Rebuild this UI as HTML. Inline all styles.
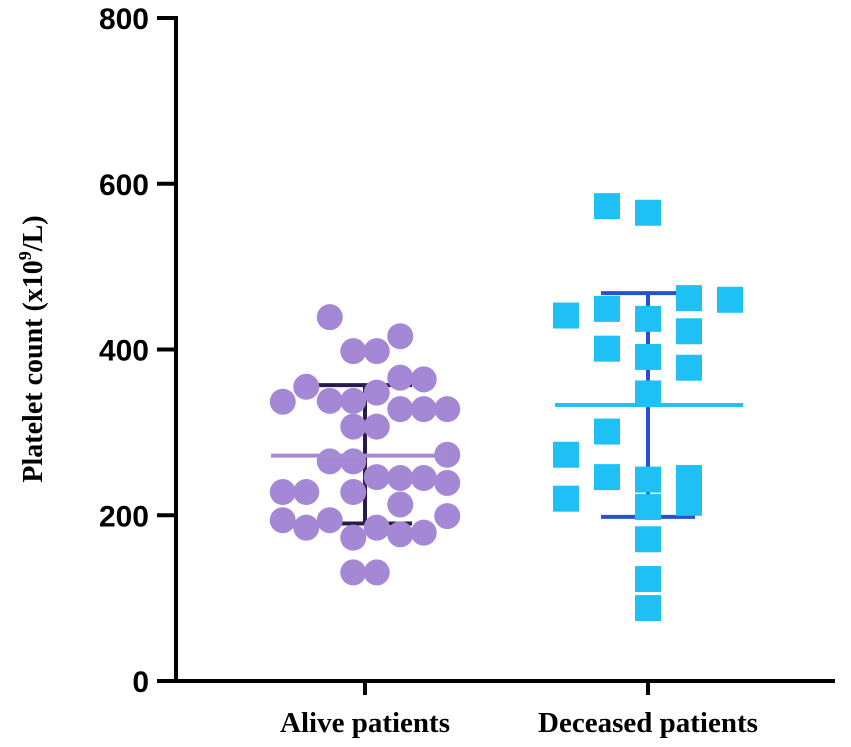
<!DOCTYPE html>
<html><head><meta charset="utf-8"><style>
html,body{margin:0;padding:0;background:#fff;}
svg{display:block;}
</style></head><body>
<svg id="chart" width="851" height="747" xmlns="http://www.w3.org/2000/svg">
<g id="axes"></g>
<g id="marks"></g>
<text transform="translate(42,349) rotate(-90)" text-anchor="middle" font-family="Liberation Serif, serif" font-weight="bold" font-size="28">Platelet count (x10<tspan font-size="18" dy="-11">9</tspan><tspan dy="11">/L)</tspan></text>
</svg>
<script>
const categories = ["Alive patients","Deceased patients"];
const yTicks = [0,200,400,600,800];
const aliveValues = [439,398,398,416,355,366,364,337,338,338,348,328,328,328,307,307,265,265,273,246,245,245,239,228,228,228,213,194,185,194,199,173,185,177,179,131,131];
const aliveSlots = [-1.5,-0.5,0.5,1.5,-2.5,1.5,2.5,-3.5,-1.5,-0.5,0.5,1.5,2.5,3.5,-0.5,0.5,-1.5,-0.5,3.5,0.5,1.5,2.5,3.5,-3.5,-2.5,-0.5,1.5,-3.5,-2.5,-1.5,3.5,-0.5,0.5,1.5,2.5,-0.5,0.5];
const aliveMean = 272, aliveSdLow = 190, aliveSdHigh = 357;
const deceasedValues = [573,565,462,460,441,449,437,422,401,391,378,347,301,273,246,220,243,210,245,215,171,123,88];
const deceasedSlots = [-1,0,1,2,-2,-1,0,1,-1,0,1,0,-1,-2,-1,-2,0,0,1,1,0,0,0];
const deceasedMean = 333, deceasedSdLow = 198, deceasedSdHigh = 468;

const NS="http://www.w3.org/2000/svg";
const x0=176,y0=681,yTop=18,xEnd=835;
const yScale=v=>y0-(v/800)*(y0-yTop);
const catX=[365,648];
function mk(tag,attrs,parent){const e=document.createElementNS(NS,tag);for(const k in attrs)e.setAttribute(k,attrs[k]);parent.appendChild(e);return e;}
const axes=document.getElementById('axes'),marks=document.getElementById('marks');
let e=mk('line',{x1:x0,y1:yTop-2,x2:x0,y2:y0+2,stroke:'#000','stroke-width':4},axes);


e=mk('line',{x1:x0-2,y1:y0,x2:xEnd,y2:y0,stroke:'#000','stroke-width':4},axes);


yTicks.forEach(t=>{const y=yScale(t);
 let l=mk('line',{x1:x0-19,y1:y,x2:x0,y2:y,stroke:'#000','stroke-width':4},axes);
 
 
 let tx=mk('text',{x:x0-27,y:y+11,'text-anchor':'end','font-family':'Liberation Sans, sans-serif','font-weight':'bold','font-size':'30'},axes);
 tx.textContent=t;
 
 
});
categories.forEach((c,i)=>{
 let l=mk('line',{x1:catX[i],y1:y0,x2:catX[i],y2:y0+14,stroke:'#000','stroke-width':4},axes);
 
 
 let tx=mk('text',{x:catX[i],y:732,'text-anchor':'middle','font-family':'Liberation Serif, serif','font-weight':'bold','font-size':'29'},axes);
 tx.textContent=c;
 
 
});
function errBar(cx,lo,hi,half,col){
 let g=mk('g',{},marks);
 
 
 mk('line',{x1:cx,y1:yScale(hi),x2:cx,y2:yScale(lo),stroke:col,'stroke-width':4},g);
 mk('line',{x1:cx-half,y1:yScale(hi),x2:cx+half,y2:yScale(hi),stroke:col,'stroke-width':4},g);
 mk('line',{x1:cx-half,y1:yScale(lo),x2:cx+half,y2:yScale(lo),stroke:col,'stroke-width':4},g);
}
errBar(catX[0],aliveSdLow,aliveSdHigh,47,'#2b1b4c');
errBar(catX[1],deceasedSdLow,deceasedSdHigh,47,'#2a4fcf');
aliveValues.forEach((v,i)=>{
 let c=mk('circle',{cx:catX[0]+aliveSlots[i]*23.5,cy:yScale(v),r:13,fill:'#a488d6'},marks);
 
 
});
deceasedValues.forEach((v,i)=>{
 let r=mk('rect',{x:catX[1]+deceasedSlots[i]*41-13,y:yScale(v)-13,width:26,height:26,fill:'#1ec0f5'},marks);
 
 
});
e=mk('line',{x1:catX[0]-94,y1:yScale(aliveMean),x2:catX[0]+82,y2:yScale(aliveMean),stroke:'#a58bd4','stroke-width':4},marks);


e=mk('line',{x1:catX[1]-93,y1:yScale(deceasedMean),x2:catX[1]+95,y2:yScale(deceasedMean),stroke:'#25bff0','stroke-width':4},marks);


</script>
</body></html>
